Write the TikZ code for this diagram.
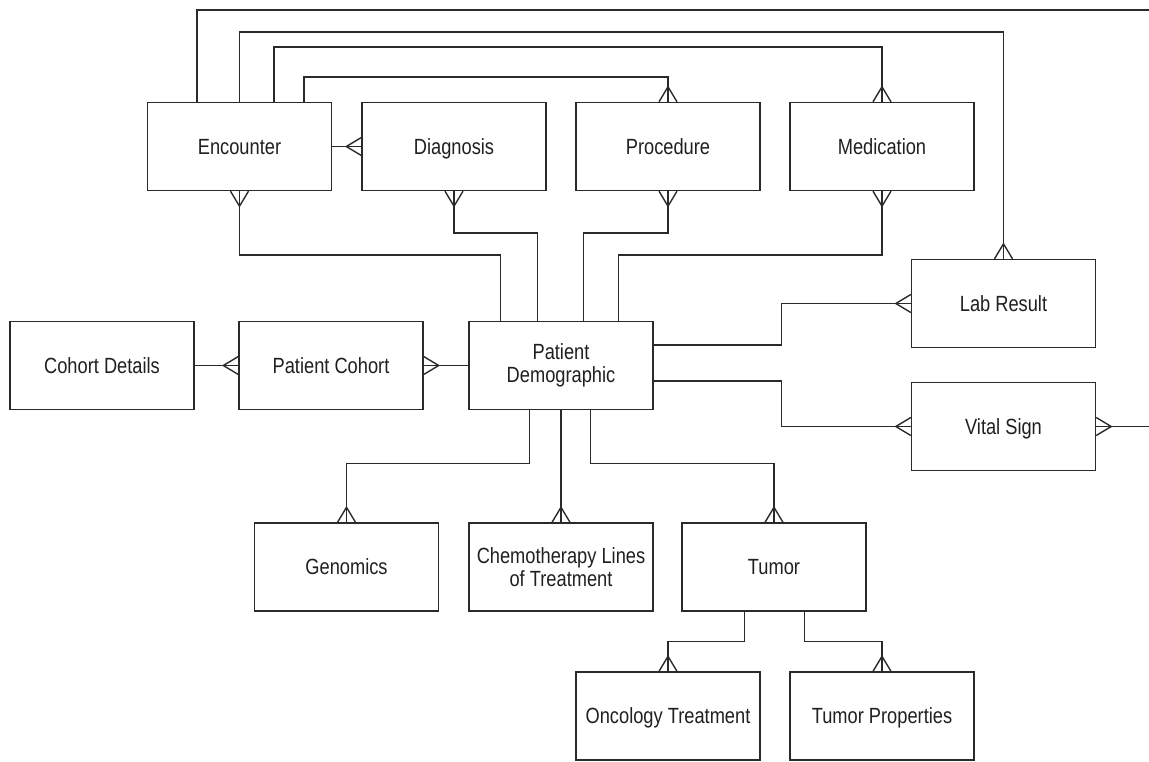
\documentclass[tikz,border=0pt]{standalone}
\usepackage{fontspec}
\setmainfont{Liberation Sans}[FakeStretch=0.83]
\usetikzlibrary{calc}
\definecolor{ln}{HTML}{2A2A2A}
\definecolor{tx}{HTML}{202020}
\tikzset{
  entity/.style={draw=ln, line width=1.4pt, fill=white, minimum width=184pt, minimum height=88pt,
    inner sep=2pt, align=center, text=tx, font=\fontsize{22}{23}\selectfont},
  oneline/.style={text height=18pt, text depth=3pt},
  conn/.style={draw=ln, line width=1.4pt},
  crowline/.style={draw=ln, line width=1.4pt, line join=miter}
}
\newcommand{\crowN}[1]{\draw[crowline] ($(#1)+(-9,0)$) -- ($(#1)+(0,-15)$) -- ($(#1)+(9,0)$);}
\newcommand{\crowS}[1]{\draw[crowline] ($(#1)+(-9,0)$) -- ($(#1)+(0,15)$) -- ($(#1)+(9,0)$);}
\newcommand{\crowW}[1]{\draw[crowline] ($(#1)+(0,-9)$) -- ($(#1)+(-15,0)$) -- ($(#1)+(0,9)$);}
\newcommand{\crowE}[1]{\draw[crowline] ($(#1)+(0,-9)$) -- ($(#1)+(15,0)$) -- ($(#1)+(0,9)$);}
\begin{document}
\begin{tikzpicture}[x=1pt, y=-1pt]
\useasboundingbox (0,0) rectangle (1149,761);
\clip (0,0) rectangle (1149,761);
\fill[white] (0,0) rectangle (1149,761);

% top row
\node[entity, oneline] (enc)  at (239.5,146.5) {Encounter};
\node[entity, oneline] (diag) at (454,146.5)   {Diagnosis};
\node[entity, oneline] (proc) at (668,146.5)   {Procedure};
\node[entity, oneline] (med)  at (882,146.5)   {Medication};
% right column
\node[entity, oneline] (lab)  at (1003.5,303.5) {Lab Result};
\node[entity, oneline] (vs)   at (1003.5,426.5) {Vital Sign};
% middle row
\node[entity, oneline] (cd)   at (102,365.5)   {Cohort Details};
\node[entity, oneline] (pc)   at (331,365.5)   {Patient Cohort};
\node[entity] (pd)   at (561,365.5)   {Patient\\Demographic};
% lower rows
\node[entity, oneline] (gen)  at (346.5,567)   {Genomics};
\node[entity] (chemo) at (561,567)    {Chemotherapy Lines\\of Treatment};
\node[entity, oneline] (tum)  at (774,567)     {Tumor};
\node[entity, oneline] (onc)  at (668,716)     {Oncology Treatment};
\node[entity, oneline] (tp)   at (882,716)     {Tumor Properties};

% connectors over the top
\draw[conn] ($(enc.north west)+(50,0)$) |- (1162,10) |- (vs.east);
\draw[conn] (enc.north) -- (enc.north |- 0,32) -| (lab.north);
\draw[conn] ($(enc.north west)+(127,0)$) |- (med.north |- 0,47) -- (med.north);
\draw[conn] ($(enc.north west)+(157,0)$) |- (proc.north |- 0,77) -- (proc.north);
\draw[conn] (enc.east) -- (diag.west);

% top row to patient demographic
\draw[conn] (enc.south) -- (enc.south |- 0,255) -| ($(pd.north west)+(32,0)$);
\draw[conn] (diag.south) -- (diag.south |- 0,233) -| ($(pd.north west)+(69,0)$);
\draw[conn] (proc.south) -- (proc.south |- 0,233) -| ($(pd.north west)+(115,0)$);
\draw[conn] (med.south) -- (med.south |- 0,255) -| ($(pd.north west)+(150,0)$);

% right side
\draw[conn] ($(pd.north east)+(0,24)$) -- ++(128,0) |- (lab.west);
\draw[conn] ($(pd.north east)+(0,60)$) -- ++(128,0) |- (vs.west);

% left side
\draw[conn] (cd.east) -- (pc.west);
\draw[conn] (pc.east) -- (pd.west);

% below
\draw[conn] ($(pd.south west)+(61,0)$) -- ++(0,53) -| (gen.north);
\draw[conn] (pd.south) -- (chemo.north);
\draw[conn] ($(pd.south west)+(122,0)$) -- ++(0,53) -| (tum.north);
\draw[conn] ($(tum.south west)+(63,0)$) -- ++(0,30) -| (onc.north);
\draw[conn] ($(tum.south west)+(123,0)$) -- ++(0,30) -| (tp.north);

% crow's feet
\crowW{diag.west}
\crowN{lab.north}
\crowN{med.north}
\crowN{proc.north}
\crowE{vs.east}
\crowW{vs.west}
\crowW{lab.west}
\crowS{enc.south}
\crowS{diag.south}
\crowS{proc.south}
\crowS{med.south}
\crowW{pc.west}
\crowE{pc.east}
\crowN{gen.north}
\crowN{chemo.north}
\crowN{tum.north}
\crowN{onc.north}
\crowN{tp.north}
\end{tikzpicture}
\end{document}
